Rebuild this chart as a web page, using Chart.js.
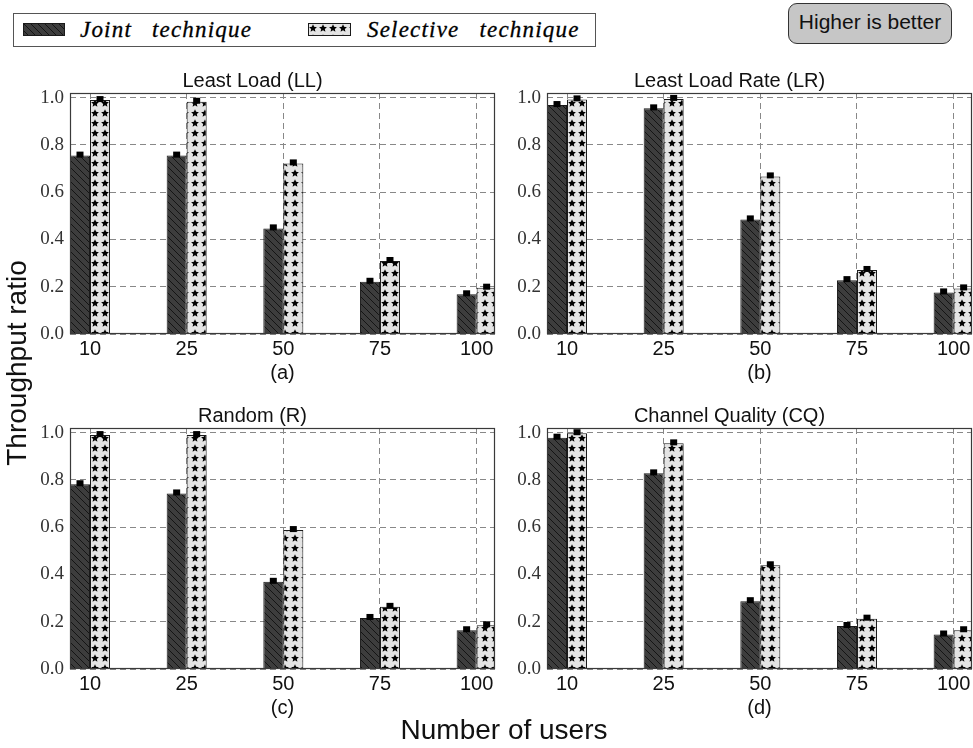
<!DOCTYPE html>
<html>
<head>
<meta charset="utf-8">
<script src="https://cdn.jsdelivr.net/npm/chart.js@4.4.1/dist/chart.umd.min.js"></script>
<style>
  html, body { margin: 0; padding: 0; background: #fff; overflow: hidden; }
  body { width: 973px; height: 748px; position: relative; font-family: 'Liberation Sans', Arial, sans-serif; color: #111; }
  .panel { position: absolute; }
  #legend-box { position: absolute; left: 13px; top: 13px; width: 583px; height: 34px; border: 1px solid #555; box-sizing: border-box; background: #fff; }
  .swatch { position: absolute; }
  .legend-text { position: absolute; top: 13px; height: 34px; line-height: 34px; font-family: 'Liberation Serif', serif; font-style: italic; font-size: 23px; letter-spacing: 1.2px; word-spacing: 13px; white-space: nowrap; color: #000; -webkit-text-stroke: 0.3px #000; }
  #better { position: absolute; left: 788px; top: 3px; width: 164px; height: 41px; box-sizing: border-box; border: 1.5px solid #333; border-radius: 9px; background: #c6c6c6; font-size: 21px; line-height: 36px; text-align: center; color: #111; }
  #y-title { position: absolute; left: -133px; top: 346px; width: 300px; height: 34px; line-height: 34px; font-size: 28px; text-align: center; transform: rotate(-90deg); white-space: nowrap; }
  #x-title { position: absolute; left: 354px; top: 716px; width: 300px; line-height: 28px; font-size: 28px; text-align: center; white-space: nowrap; }
</style>
</head>
<body>
<div id="legend-box"></div>
<canvas id="swatch-joint" class="swatch" width="42" height="13" style="left:23px; top:23px"></canvas>
<span class="legend-text" style="left:80px">Joint technique</span>
<canvas id="swatch-selective" class="swatch" width="43" height="13" style="left:308px; top:23px"></canvas>
<span class="legend-text" style="left:367px">Selective technique</span>
<div id="better">Higher is better</div>

<canvas id="chart-a" class="panel" width="490" height="331" style="left:10px; top:58px"></canvas>
<canvas id="chart-b" class="panel" width="490" height="331" style="left:487px; top:58px"></canvas>
<canvas id="chart-c" class="panel" width="490" height="331" style="left:10px; top:393px"></canvas>
<canvas id="chart-d" class="panel" width="490" height="331" style="left:487px; top:393px"></canvas>

<div id="y-title">Throughput ratio</div>
<div id="x-title">Number of users</div>

<script>
// Number of users on the x axis
const users = ['10', '25', '50', '75', '100'];
const yTicks = [0, 0.2, 0.4, 0.6, 0.8, 1.0];

// Least Load (LL)
const llJoint = [0.755, 0.755, 0.447, 0.221, 0.168];
const llSelective = [0.99, 0.983, 0.722, 0.309, 0.196];
// Least Load Rate (LR)
const lrJoint = [0.969, 0.955, 0.485, 0.228, 0.176];
const lrSelective = [0.993, 0.995, 0.667, 0.271, 0.193];
// Random (R)
const rJoint = [0.782, 0.743, 0.369, 0.216, 0.164];
const rSelective = [0.99, 0.99, 0.588, 0.263, 0.185];
// Channel Quality (CQ)
const cqJoint = [0.979, 0.828, 0.287, 0.182, 0.146];
const cqSelective = [0.998, 0.955, 0.439, 0.213, 0.164];

// Dark grey with "\" hatch
function hatchPattern() {
    const s = 7;
    const c = document.createElement('canvas');
    c.width = s; c.height = s;
    const g = c.getContext('2d');
    g.fillStyle = '#3d3d3d';
    g.fillRect(0, 0, s, s);
    g.strokeStyle = '#141414';
    g.lineWidth = 1;
    g.beginPath();
    g.moveTo(-1, -1); g.lineTo(s + 1, s + 1);
    g.moveTo(-1, s - 1); g.lineTo(1, s + 1);
    g.moveTo(s - 1, -1); g.lineTo(s + 1, 1);
    g.stroke();
    return g.createPattern(c, 'repeat');
}

function drawStar(g, cx, cy, outer, inner) {
    g.beginPath();
    for (let k = 0; k < 10; k++) {
        const r = k % 2 === 0 ? outer : inner;
        const a = -Math.PI / 2 + k * Math.PI / 5;
        const px = cx + r * Math.cos(a);
        const py = cy + r * Math.sin(a);
        if (k === 0) g.moveTo(px, py); else g.lineTo(px, py);
    }
    g.closePath();
    g.fill();
}

// Light grey with black stars
function starPattern() {
    const s = 10;
    const c = document.createElement('canvas');
    c.width = s; c.height = s;
    const g = c.getContext('2d');
    g.fillStyle = '#e4e4e4';
    g.fillRect(0, 0, s, s);
    g.fillStyle = '#000';
    drawStar(g, 5, 5.4, 4.1, 1.9);
    return g.createPattern(c, 'repeat');
}

const hatch = hatchPattern();
const stars = starPattern();

// Error caps and the box round each plot
const framePlugin = {
    id: 'frame',
    afterDatasetsDraw(chart) {
        const { ctx, chartArea: a } = chart;
        ctx.save();
        ctx.beginPath();
        ctx.rect(a.left, a.top, a.right - a.left, a.bottom - a.top);
        ctx.clip();
        ctx.fillStyle = '#000';
        chart.data.datasets.forEach((ds, i) => {
            chart.getDatasetMeta(i).data.forEach(bar => {
                ctx.fillRect(bar.x - 3.5, bar.y - 4, 7, 6);
            });
        });
        ctx.restore();
        ctx.save();
        ctx.strokeStyle = '#3a3a3a';
        ctx.lineWidth = 1.2;
        ctx.strokeRect(a.left + 0.5, a.top + 0.5, a.right - a.left - 1, a.bottom - a.top - 1);
        ctx.restore();
    }
};

const gridOpts = { color: '#888', lineWidth: 1, drawTicks: false, offset: false };

function makePanel(id, title, sub, joint, selective) {
    new Chart(document.getElementById(id), {
        type: 'bar',
        data: {
            datasets: [
                {
                    label: 'Joint technique',
                    data: joint.map((v, i) => ({ x: i, y: v })),
                    backgroundColor: hatch,
                    borderColor: '#1a1a1a',
                    borderWidth: 1,
                    categoryPercentage: 0.414,
                    barPercentage: 1
                },
                {
                    label: 'Selective technique',
                    data: selective.map((v, i) => ({ x: i, y: v })),
                    backgroundColor: stars,
                    borderColor: '#1a1a1a',
                    borderWidth: 1,
                    categoryPercentage: 0.414,
                    barPercentage: 1
                }
            ]
        },
        options: {
            responsive: false,
            animation: false,
            devicePixelRatio: 1,
            layout: { padding: { left: 0, right: 5, top: 0, bottom: 0 } },
            plugins: {
                legend: { display: false },
                tooltip: { enabled: false },
                title: {
                    display: true,
                    text: title,
                    color: '#111',
                    font: { family: 'Liberation Sans', size: 20, weight: 'normal' },
                    padding: { top: 11, bottom: 0 }
                }
            },
            scales: {
                x: {
                    type: 'linear',
                    min: -0.207,
                    max: 4.19,
                    offset: false,
                    afterBuildTicks: s => { s.ticks = users.map((u, i) => ({ value: i })); },
                    afterFit: s => { s.height = 55; },
                    ticks: {
                        callback: v => users[v],
                        color: '#111',
                        font: { family: 'Liberation Sans', size: 20 },
                        padding: 3,
                        maxRotation: 0,
                        autoSkip: false
                    },
                    grid: gridOpts,
                    border: { display: false, dash: [6, 4] },
                    title: {
                        display: true,
                        text: sub,
                        color: '#111',
                        font: { family: 'Liberation Sans', size: 20 },
                        padding: { top: 0, bottom: 4 }
                    }
                },
                y: {
                    min: 0,
                    max: 1.02,
                    afterBuildTicks: s => { s.ticks = yTicks.map(v => ({ value: v })); },
                    afterFit: s => { s.width = 60; },
                    ticks: {
                        callback: v => v.toFixed(1),
                        color: '#333',
                        font: { family: 'Liberation Serif', size: 19 },
                        padding: 6
                    },
                    grid: gridOpts,
                    border: { display: false, dash: [6, 4] }
                }
            }
        },
        plugins: [framePlugin]
    });
}

makePanel('chart-a', 'Least Load (LL)', '(a)', llJoint, llSelective);
makePanel('chart-b', 'Least Load Rate (LR)', '(b)', lrJoint, lrSelective);
makePanel('chart-c', 'Random (R)', '(c)', rJoint, rSelective);
makePanel('chart-d', 'Channel Quality (CQ)', '(d)', cqJoint, cqSelective);

// Legend swatches use the same fills
function paintSwatch(id, fill) {
    const c = document.getElementById(id);
    const g = c.getContext('2d');
    g.fillStyle = fill;
    g.fillRect(0, 0, c.width, c.height);
    g.strokeStyle = '#1a1a1a';
    g.lineWidth = 1;
    g.strokeRect(0.5, 0.5, c.width - 1, c.height - 1);
}
paintSwatch('swatch-joint', hatch);
paintSwatch('swatch-selective', stars);
</script>
</body>
</html>
